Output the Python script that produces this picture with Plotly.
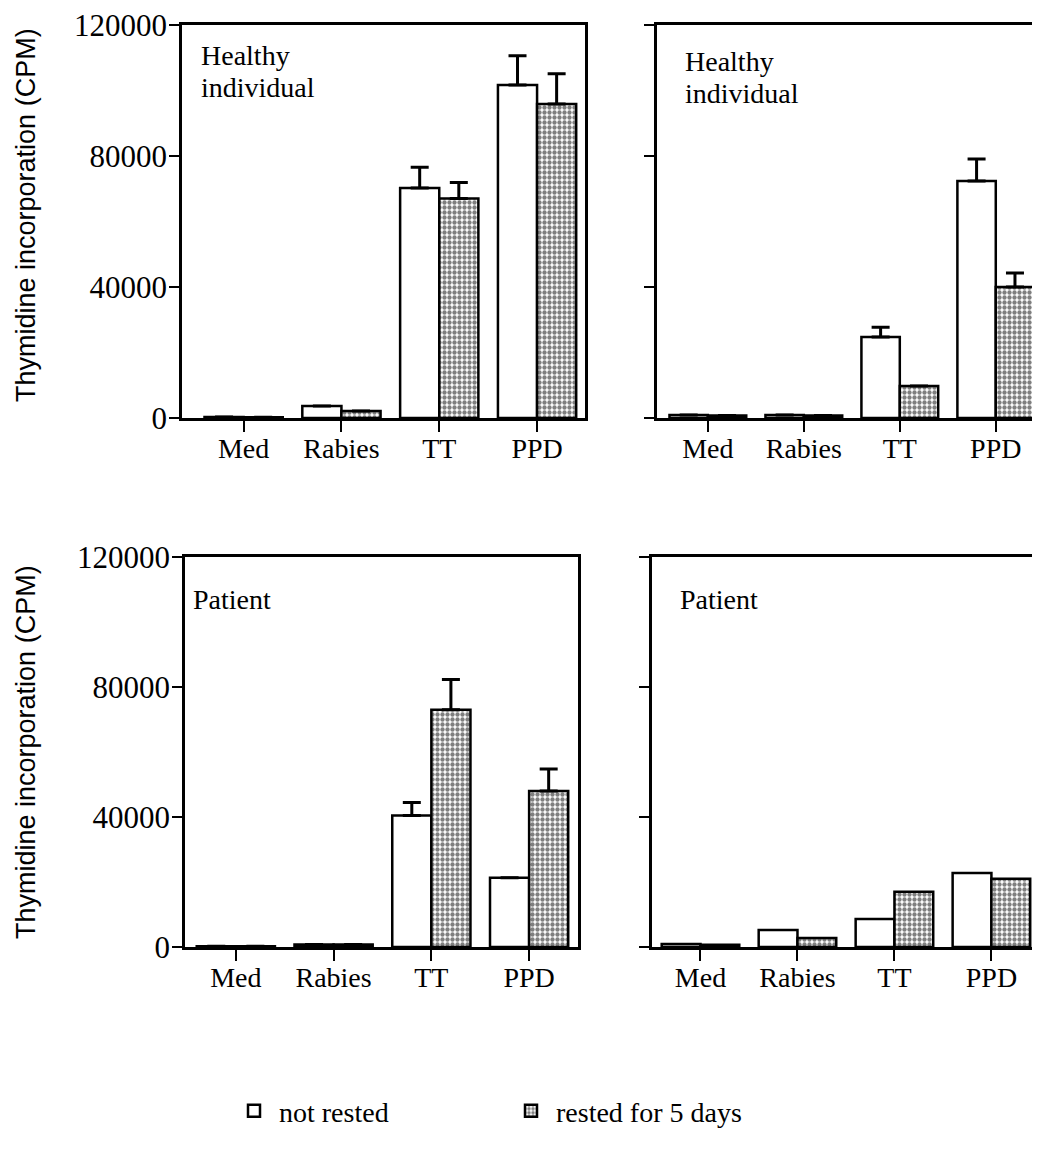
import plotly.graph_objects as go

W, H = 1040, 1154
OFF = 8  # page body margin offset

categories = ["Med", "Rabies", "TT", "PPD"]
series_names = ["not rested", "rested for 5 days"]

# Panel A: healthy individual (top-left)
hA_not = [300, 3700, 70200, 101700]
hA_not_err = [None, None, 6400, 8900]
hA_rest = [200, 2100, 67000, 95900]
hA_rest_err = [None, None, 4900, 9200]

# Panel B: healthy individual (top-right)
hB_not = [900, 900, 24700, 72400]
hB_not_err = [None, None, 3000, 6700]
hB_rest = [800, 800, 9800, 40000]
hB_rest_err = [None, None, None, 4300]

# Panel C: patient (bottom-left)
pA_not = [200, 800, 40500, 21300]
pA_not_err = [None, None, 4000, None]
pA_rest = [200, 800, 73000, 48000]
pA_rest_err = [None, None, 9300, 6800]

# Panel D: patient (bottom-right)
pB_not = [900, 5200, 8600, 22800]
pB_rest = [700, 2800, 17000, 21000]

y_ticks = [0, 40000, 80000, 120000]
y_ticktext = ["0", "40000", "80000", "120000"]

SERIF = "Liberation Serif, Times New Roman, serif"
NARROW = "Liberation Sans Narrow, Arial Narrow, Liberation Sans, sans-serif"

def px_x(p):
    return (p - OFF) / W

def px_y(p):
    return 1 - (p - OFF) / H

panels = [
    dict(xa="x", ya="y", xd=(182, 585), yd=(25, 418), xr=(-0.63, 3.49), labels=True,
         data=[(hA_not, hA_not_err), (hA_rest, hA_rest_err)]),
    dict(xa="x2", ya="y2", xd=(657, 1038), yd=(25, 418), xr=(-0.53, 3.44), labels=False,
         data=[(hB_not, hB_not_err), (hB_rest, hB_rest_err)]),
    dict(xa="x3", ya="y3", xd=(185, 578), yd=(557, 947), xr=(-0.52, 3.5), labels=True,
         data=[(pA_not, pA_not_err), (pA_rest, pA_rest_err)]),
    dict(xa="x4", ya="y4", xd=(652, 1037), yd=(557, 947), xr=(-0.5, 3.47), labels=False,
         data=[(pB_not, None), (pB_rest, None)]),
]

fig = go.Figure()
xpos = list(range(len(categories)))

for i, p in enumerate(panels):
    for s, (vals, err) in enumerate(p["data"]):
        marker = dict(color="white", line=dict(color="black", width=2.5))
        if s == 1:
            marker["pattern"] = dict(shape=".", fgcolor="black", bgcolor="white",
                                     size=5, solidity=0.6)
        kw = {}
        if err is not None:
            kw["error_y"] = dict(type="data", symmetric=False, array=err,
                                 arrayminus=[0] * len(err), color="black",
                                 thickness=3, width=9)
        fig.add_trace(go.Bar(
            x=xpos, y=vals, name=series_names[s], marker=marker,
            offsetgroup=str(s), legendgroup=str(s), showlegend=(i == 0),
            xaxis=p["xa"], yaxis=p["ya"], **kw))

layout = dict(
    width=W, height=H, margin=dict(l=0, r=0, t=0, b=0, autoexpand=False),
    paper_bgcolor="white", plot_bgcolor="white",
    barmode="group", bargap=0.2, bargroupgap=0,
    showlegend=True,
    legend=dict(orientation="h", x=px_x(229), y=px_y(1111), xanchor="left",
                yanchor="middle", font=dict(family=SERIF, size=28, color="black"),
                entrywidth=222, entrywidthmode="pixels", itemwidth=40,
                bgcolor="rgba(0,0,0,0)"),
    font=dict(family=SERIF, color="black"),
)

for i, p in enumerate(panels):
    suffix = "" if i == 0 else str(i + 1)
    layout["xaxis" + suffix] = dict(
        domain=[px_x(p["xd"][0]), px_x(p["xd"][1])], anchor=p["ya"],
        range=list(p["xr"]), tickvals=xpos, ticktext=categories,
        showline=True, linecolor="black", linewidth=2.5, mirror=True,
        ticks="outside", ticklen=11, tickwidth=2, tickcolor="black",
        showgrid=False, zeroline=False, automargin=False,
        ticklabelstandoff=-7,
        tickfont=dict(family=SERIF, size=28, color="black"),
    )
    layout["yaxis" + suffix] = dict(
        domain=[px_y(p["yd"][1]), px_y(p["yd"][0])], anchor=p["xa"],
        range=[0, 120000], tickvals=y_ticks, ticktext=y_ticktext,
        showticklabels=p["labels"], ticklabeloverflow="allow",
        showline=True, linecolor="black", linewidth=2.5, mirror=True,
        ticks="outside", ticklen=10, tickwidth=2, tickcolor="black",
        showgrid=False, zeroline=False, automargin=False,
        ticklabelstandoff=-4,
        tickfont=dict(family=SERIF, size=31, color="black"),
    )

fig.update_layout(**layout)

ann = [
    ("Healthy", 199, 38), ("individual", 199, 70),
    ("Healthy", 683, 44), ("individual", 683, 76),
    ("Patient", 191, 582), ("Patient", 678, 582),
]
for text, x, y in ann:
    fig.add_annotation(xref="paper", yref="paper", showarrow=False, text=text,
                       x=px_x(x), y=px_y(y), xanchor="left", yanchor="top",
                       font=dict(family=SERIF, size=28, color="black"))

for yc in (215, 752):
    fig.add_annotation(xref="paper", yref="paper", showarrow=False,
                       text="Thymidine incorporation (CPM)", textangle=-90,
                       x=px_x(26), y=px_y(yc), xanchor="center", yanchor="middle",
                       font=dict(family=NARROW, size=27, color="black"))

fig.write_html("out.html")
